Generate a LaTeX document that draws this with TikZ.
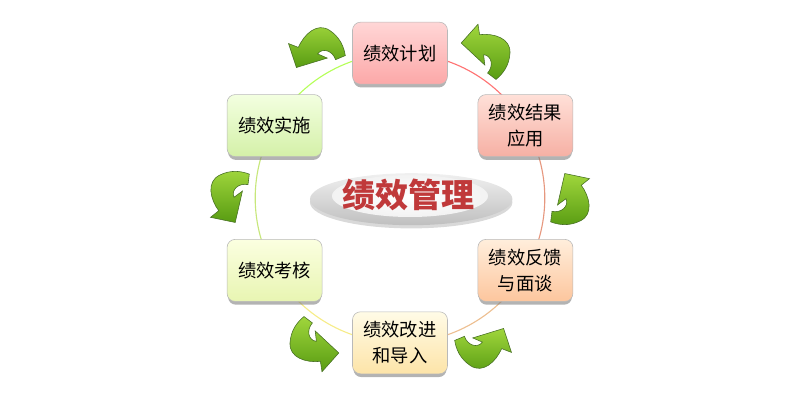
\documentclass[tikz,border=0pt]{standalone}
\usepackage{fontspec}
\newfontfamily\cjk{Noto Sans CJK SC}
\usetikzlibrary{shapes.geometric,shadows,backgrounds}

\definecolor{titlered}{RGB}{192,57,58}
\definecolor{arrowlight}{RGB}{160,214,60}
\definecolor{arrowmid}{RGB}{118,190,28}
\definecolor{arrowdark}{RGB}{88,156,18}
\definecolor{arrowedge}{RGB}{70,110,35}
\definecolor{plantop}{RGB}{255,214,214}
\definecolor{planbot}{RGB}{252,168,168}
\definecolor{applytop}{RGB}{255,224,216}
\definecolor{applybot}{RGB}{246,176,164}
\definecolor{feedtop}{RGB}{255,238,220}
\definecolor{feedbot}{RGB}{253,198,158}
\definecolor{imprtop}{RGB}{255,251,230}
\definecolor{imprbot}{RGB}{253,228,168}
\definecolor{assesstop}{RGB}{251,255,224}
\definecolor{assessbot}{RGB}{232,245,178}
\definecolor{exectop}{RGB}{243,255,224}
\definecolor{execbot}{RGB}{212,240,168}

\begin{document}
\begin{tikzpicture}
[
  box/.style = {draw = gray!55, rounded corners = 2mm, minimum width = 2.375cm,
    minimum height = 1.55cm, align = center,
    font = \cjk\fontsize{13pt}{18.5pt}\selectfont,
    drop shadow = {shadow xshift = 0pt, shadow yshift = -1mm, opacity = 0.6, shadow scale = 0.98}},
  ring/.style = {line width = 0.8pt},
  turnarrow/.pic = {
    \shadedraw[top color = arrowlight, middle color = arrowmid, bottom color = arrowdark,
      draw = arrowedge, line width = 0.4pt]
      (-0.62,0.15) -- (-0.2,0.62) -- (-0.16,0.36)
      .. controls (0.2,0.4) and (0.62,0.27) .. (0.6,-0.1)
      .. controls (0.58,-0.42) and (0.42,-0.62) .. (0.25,-0.76)
      -- (0.04,-0.6)
      .. controls (0.2,-0.42) and (0.14,-0.16) .. (-0.06,-0.14)
      -- (-0.03,-0.4) -- cycle;
  },
]

\useasboundingbox (-10,-5.05) rectangle (10,4.95);

\node (plan) at (90:3.62) [box, top color = plantop, bottom color = planbot] {绩效计划};
\node (apply) at (30:3.62) [box, top color = applytop, bottom color = applybot] {绩效结果\\应用};
\node (feedback) at (-30:3.62) [box, top color = feedtop, bottom color = feedbot] {绩效反馈\\与面谈};
\node (improve) at (-90:3.62) [box, top color = imprtop, bottom color = imprbot] {绩效改进\\和导入};
\node (assess) at (210:3.62) [box, top color = assesstop, bottom color = assessbot] {绩效考核};
\node (execute) at (150:3.62) [box, top color = exectop, bottom color = execbot] {绩效实施};

\begin{pgfonlayer}{background}
\draw[ring, red!55!white] (plan.center) arc[start angle = 90, end angle = 30, radius = 3.62cm];
\draw[ring, red!35!brown!60] (apply.center) arc[start angle = 30, end angle = -30, radius = 3.62cm];
\draw[ring, brown!55!orange!50] (feedback.center) arc[start angle = -30, end angle = -90, radius = 3.62cm];
\draw[ring, brown!30!yellow!50] (improve.center) arc[start angle = -90, end angle = -150, radius = 3.62cm];
\draw[ring, yellow!60!green!55] (assess.center) arc[start angle = 210, end angle = 150, radius = 3.62cm];
\draw[ring, green!45!yellow!65] (execute.center) arc[start angle = 150, end angle = 90, radius = 3.62cm];
\end{pgfonlayer}

\node (core) at (0.28,-0.03) [ellipse, minimum width = 5.06cm, minimum height = 1.3cm,
  top color = gray!12, bottom color = gray!50,
  drop shadow = {shadow xshift = 0pt, shadow yshift = -0.8mm, opacity = 0.3}] {};
\node (corein) at (0.25,0.05) [ellipse, minimum width = 3.9cm, minimum height = 1.05cm,
  inner color = white, outer color = gray!10] {};
\node (title) at (0.22,0.08) [font = \cjk\bfseries\fontsize{23.5pt}{26pt}\selectfont, text = titlered] {绩效管理};

\foreach \a in {120,60,0,-60,-120,180}
  \pic[rotate = \a-60] at (\a:4.3) {turnarrow};

\end{tikzpicture}
\end{document}
